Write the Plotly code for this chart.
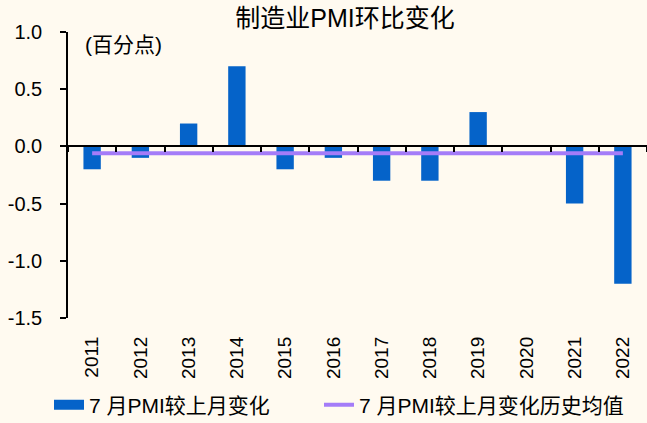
import plotly.graph_objects as go

years = ["2011", "2012", "2013", "2014", "2015", "2016", "2017", "2018", "2019", "2020", "2021", "2022"]
pmi_change = [-0.2, -0.1, 0.2, 0.7, -0.2, -0.1, -0.3, -0.3, 0.3, 0.0, -0.5, -1.2]
hist_mean = [-0.06] * len(years)

y_tick_vals = [-1.5, -1.0, -0.5, 0.0, 0.5, 1.0]
y_tick_text = ["-1.5", "-1.0", "-0.5", "0.0", "0.5", "1.0"]

bar_name = "7 月PMI较上月变化"
line_name = "7 月PMI较上月变化历史均值"
title_text = "制造业PMI环比变化"
unit_text = "(百分点)"

FONT = "Liberation Sans, Arial, Noto Sans CJK SC, sans-serif"
BLUE = "#0563C9"
PURPLE = "#A47CF8"
BG = "#FFFAF0"

fig = go.Figure()
fig.add_trace(go.Bar(x=years, y=pmi_change, name=bar_name, marker=dict(color=BLUE, line=dict(width=0)),
                     width=0.36, showlegend=False, xaxis="x", yaxis="y"))
# legend entry styled as a flat bar swatch
fig.add_trace(go.Scatter(x=[None], y=[None], mode="lines", name=bar_name, legend="legend",
                         line=dict(color=BLUE, width=10), xaxis="x2", yaxis="y"))
fig.add_trace(go.Scatter(x=years, y=hist_mean, mode="lines", name=line_name, legend="legend2",
                         line=dict(color=PURPLE, width=4), xaxis="x2", yaxis="y"))

legend_common = dict(orientation="h", xref="container", yref="container", y=(423 - 405) / 423,
                     xanchor="left", yanchor="middle", bgcolor="rgba(0,0,0,0)",
                     font=dict(family=FONT, size=21, color="#000000"))

fig.update_layout(
    width=647, height=423,
    margin=dict(l=68, r=0, t=32, b=105, autoexpand=False),
    paper_bgcolor=BG, plot_bgcolor=BG,
    font=dict(family=FONT, size=20, color="#000000"),
    title=dict(text=title_text, x=345 / 647, xref="container", xanchor="center",
               y=1 - 18 / 423, yref="container", yanchor="middle", automargin=False,
               font=dict(family=FONT, size=25, color="#000000")),
    xaxis=dict(type="category", anchor="free", position=0.6, showline=True, linecolor="#000000",
               linewidth=1.5, ticks="outside", ticklen=5, tickwidth=1.5, tickcolor="#000000",
               tickson="boundaries", showticklabels=False, showgrid=False, zeroline=False,
               range=[-0.5, 11.5], automargin=False),
    xaxis2=dict(type="category", overlaying="x", matches="x", anchor="y", side="bottom",
                showline=False, ticks="", showgrid=False, zeroline=False, tickangle=-90,
                ticklabelstandoff=14, tickfont=dict(size=19), automargin=False),
    yaxis=dict(range=[-1.5, 1.0], tickvals=y_tick_vals, ticktext=y_tick_text, showline=True,
               linecolor="#000000", linewidth=1.5, ticks="outside", ticklen=6, tickwidth=1.5,
               tickcolor="#000000", ticklabelstandoff=14, showgrid=False, zeroline=False,
               tickfont=dict(size=20), automargin=False),
    legend=dict(x=49 / 647, **legend_common),
    legend2=dict(x=319 / 647, **legend_common),
    annotations=[dict(text=unit_text, xref="paper", yref="paper", x=(83 - 68) / 579, y=1 - 13 / 286,
                      xanchor="left", yanchor="middle", showarrow=False,
                      font=dict(family=FONT, size=21, color="#000000"))],
)

fig.write_html("out.html", config={"displayModeBar": False},
               post_script="document.body.style.margin='0';document.body.style.overflow='hidden';")
